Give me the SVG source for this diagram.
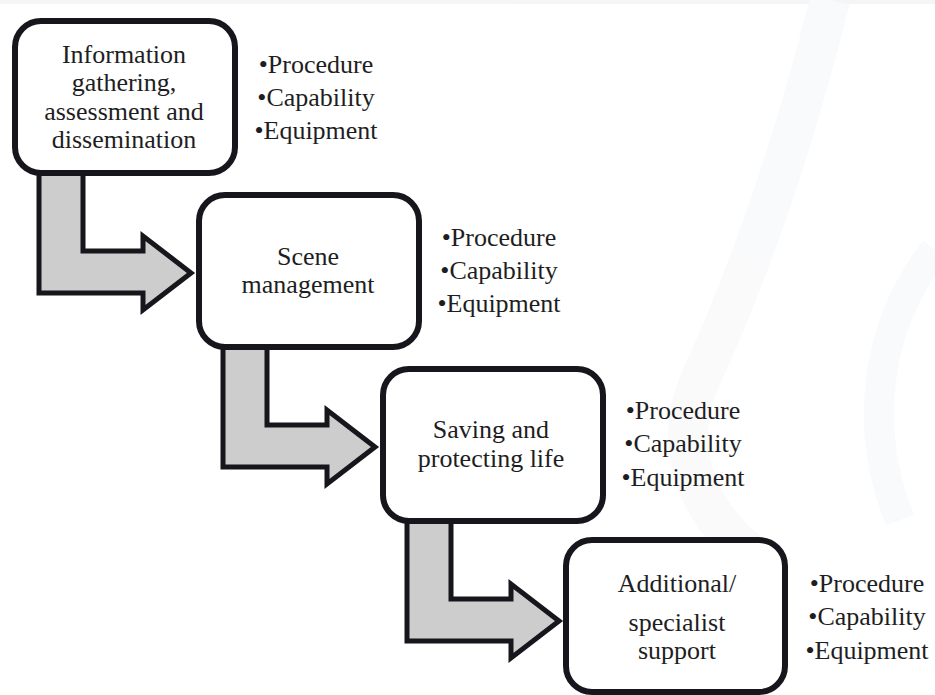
<svg xmlns="http://www.w3.org/2000/svg" width="935" height="695" viewBox="0 0 935 695">
  <style>
    .box { fill: #ffffff; stroke: #16161c; stroke-width: 6; }
    .arrow { fill: #cdcdcd; stroke: #16161c; stroke-width: 5; stroke-linejoin: miter; }
    .t { font-size: 26px; fill: #1e1e22; text-anchor: middle; }
  </style>
  <rect x="0" y="0" width="935" height="695" fill="#ffffff"/>
  <g id="background" opacity="0.6">
    <rect x="0" y="0" width="935" height="4" fill="#eef0f3"/>
    <path d="M 830 0 C 800 120 760 250 700 380 C 670 450 700 520 760 560" fill="none" stroke="#f6f7f9" stroke-width="40"/>
    <path d="M 935 250 C 880 320 860 420 900 520" fill="none" stroke="#f6f7f9" stroke-width="30"/>
  </g>
  <g id="connectors">
    <polygon class="arrow" points="39,168 83,168 83,251 143,251 143,236 191,273 143,310 143,293 39,293"/>
    <polygon class="arrow" points="223,342 267,342 267,425 327,425 327,410 375,447 327,484 327,467 223,467"/>
    <polygon class="arrow" points="407,516 451,516 451,599 511,599 511,584 559,621 511,658 511,641 407,641"/>
  </g>
  <g id="node1">
    <rect class="box" x="15" y="21" width="220" height="152" rx="26" ry="26"/>
    <text class="t" font-family="Liberation Serif" x="124" y="63">Information</text>
    <text class="t" font-family="Liberation Serif" x="124" y="91">gathering,</text>
    <text class="t" font-family="Liberation Serif" x="124" y="120">assessment and</text>
    <text class="t" font-family="Liberation Serif" x="124" y="148">dissemination</text>
  </g>
  <g id="list1">
    <text class="t" font-family="Liberation Serif" x="316" y="73">•Procedure</text>
    <text class="t" font-family="Liberation Serif" x="316" y="106">•Capability</text>
    <text class="t" font-family="Liberation Serif" x="316" y="139">•Equipment</text>
  </g>
  <g id="node2">
    <rect class="box" x="199" y="195" width="220" height="152" rx="26" ry="26"/>
    <text class="t" font-family="Liberation Serif" x="308" y="265">Scene</text>
    <text class="t" font-family="Liberation Serif" x="308" y="293">management</text>
  </g>
  <g id="list2">
    <text class="t" font-family="Liberation Serif" x="499" y="246">•Procedure</text>
    <text class="t" font-family="Liberation Serif" x="499" y="279">•Capability</text>
    <text class="t" font-family="Liberation Serif" x="499" y="312">•Equipment</text>
  </g>
  <g id="node3">
    <rect class="box" x="383" y="369" width="220" height="152" rx="26" ry="26"/>
    <text class="t" font-family="Liberation Serif" x="491" y="438">Saving and</text>
    <text class="t" font-family="Liberation Serif" x="491" y="467">protecting life</text>
  </g>
  <g id="list3">
    <text class="t" font-family="Liberation Serif" x="683" y="419">•Procedure</text>
    <text class="t" font-family="Liberation Serif" x="683" y="452">•Capability</text>
    <text class="t" font-family="Liberation Serif" x="683" y="486">•Equipment</text>
  </g>
  <g id="node4">
    <rect class="box" x="566" y="540" width="219" height="152" rx="26" ry="26"/>
    <text class="t" font-family="Liberation Serif" x="677" y="592">Additional/</text>
    <text class="t" font-family="Liberation Serif" x="677" y="631">specialist</text>
    <text class="t" font-family="Liberation Serif" x="677" y="659">support</text>
  </g>
  <g id="list4">
    <text class="t" font-family="Liberation Serif" x="867" y="592">•Procedure</text>
    <text class="t" font-family="Liberation Serif" x="867" y="625">•Capability</text>
    <text class="t" font-family="Liberation Serif" x="867" y="659">•Equipment</text>
  </g>
</svg>
